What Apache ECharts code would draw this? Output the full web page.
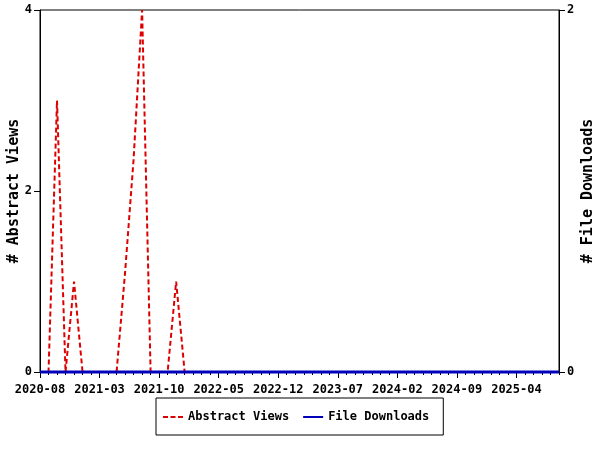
<!DOCTYPE html>
<html>
<head>
<meta charset="utf-8">
<script src="https://cdn.jsdelivr.net/npm/echarts@6/dist/echarts.min.js"></script>
<style>
  html, body { margin: 0; padding: 0; background: #fff; }
  #chart { width: 600px; height: 450px; }
</style>
</head>
<body>
<div id="chart"></div>
<script>
// monthly categories 2020-08 .. 2025-09
const months = [
  '2020-08', '2020-09', '2020-10', '2020-11', '2020-12',
  '2021-01', '2021-02', '2021-03', '2021-04', '2021-05', '2021-06', '2021-07', '2021-08', '2021-09', '2021-10', '2021-11', '2021-12',
  '2022-01', '2022-02', '2022-03', '2022-04', '2022-05', '2022-06', '2022-07', '2022-08', '2022-09', '2022-10', '2022-11', '2022-12',
  '2023-01', '2023-02', '2023-03', '2023-04', '2023-05', '2023-06', '2023-07', '2023-08', '2023-09', '2023-10', '2023-11', '2023-12',
  '2024-01', '2024-02', '2024-03', '2024-04', '2024-05', '2024-06', '2024-07', '2024-08', '2024-09', '2024-10', '2024-11', '2024-12',
  '2025-01', '2025-02', '2025-03', '2025-04', '2025-05', '2025-06', '2025-07', '2025-08', '2025-09'
]

const abstractViews = [
  0, 0, 3, 0, 1,
  0, 0, 0, 0, 0, 1.1, 2.35, 4, 0, 0, 0, 1,
  0, 0, 0, 0, 0, 0, 0, 0, 0, 0, 0, 0,
  0, 0, 0, 0, 0, 0, 0, 0, 0, 0, 0, 0,
  0, 0, 0, 0, 0, 0, 0, 0, 0, 0, 0, 0,
  0, 0, 0, 0, 0, 0, 0, 0, 0
]

const fileDownloads = [
  0, 0, 0, 0, 0,
  0, 0, 0, 0, 0, 0, 0, 0, 0, 0, 0, 0,
  0, 0, 0, 0, 0, 0, 0, 0, 0, 0, 0, 0,
  0, 0, 0, 0, 0, 0, 0, 0, 0, 0, 0, 0,
  0, 0, 0, 0, 0, 0, 0, 0, 0, 0, 0, 0,
  0, 0, 0, 0, 0, 0, 0, 0, 0
]

const FONT = 'DejaVu Sans Mono'
const labelStyle = { color: '#000', fontFamily: FONT, fontWeight: 'bold', fontSize: 12 }
const nameStyle = { color: '#000', fontFamily: FONT, fontWeight: 'bold', fontSize: 15 }
const black = { lineStyle: { color: '#000', width: 1 } }

const chart = echarts.init(document.getElementById('chart'))

chart.setOption({
  animation: false,
  grid: {
    left: 40, right: 41, top: 10, bottom: 78,
    outerBoundsMode: 'none',
    containLabel: false,
    show: true, borderColor: '#000', borderWidth: 1,
  },
  legend: {
    left: 156, top: 398,
    padding: [13, 14, 12, 7],
    itemGap: 14,
    itemWidth: 20,
    itemHeight: 3,
    borderColor: '#000', borderWidth: 1,
    textStyle: labelStyle,
    data: [
      { name: 'Abstract Views', icon: 'path://M0,0H5V2H0Z M7.5,0H12.5V2H7.5Z M15,0H20V2H15Z' },
      { name: 'File Downloads', icon: 'path://M0,0H20V2H0Z' },
    ],
  },
  xAxis: [
    {
      type: 'category',
      data: months,
      boundaryGap: false,
      axisLine: black,
      axisTick: { interval: 0, length: 3, lineStyle: { color: '#000' } },
      axisLabel: { ...labelStyle, interval: 6, margin: 12 },
      splitLine: { show: false },
    },
    {
      type: 'category',
      data: months,
      position: 'bottom',
      boundaryGap: false,
      axisLine: { show: false },
      axisTick: { interval: 6, length: 6, lineStyle: { color: '#000' } },
      axisLabel: { show: false },
    },
  ],
  yAxis: [
    {
      type: 'value',
      min: 0, max: 4, interval: 2,
      name: '# Abstract Views',
      nameLocation: 'middle',
      nameRotate: 90,
      nameGap: 18,
      nameMoveOverlap: false,
      nameTextStyle: nameStyle,
      axisLine: { show: true, ...black },
      axisTick: { show: true, length: 6, lineStyle: { color: '#000' } },
      axisLabel: { ...labelStyle, margin: 8 },
      splitLine: { show: false },
    },
    {
      type: 'value',
      min: 0, max: 2, interval: 2,
      name: '# File Downloads',
      nameLocation: 'middle',
      nameRotate: 90,
      nameGap: 22,
      nameMoveOverlap: false,
      nameTextStyle: nameStyle,
      axisLine: { show: true, ...black },
      axisTick: { show: true, length: 6, lineStyle: { color: '#000' } },
      axisLabel: { ...labelStyle, margin: 8 },
      splitLine: { show: false },
    },
  ],
  series: [
    {
      name: 'Abstract Views',
      type: 'line',
      yAxisIndex: 0,
      data: abstractViews,
      symbol: 'none',
      clip: false,
      z: 5,
      itemStyle: { color: '#dd0000' },
      lineStyle: { color: '#dd0000', width: 2, type: [5, 3] },
    },
    {
      name: 'File Downloads',
      type: 'line',
      yAxisIndex: 1,
      data: fileDownloads,
      symbol: 'none',
      clip: false,
      z: 6,
      itemStyle: { color: '#0000bb' },
      lineStyle: { color: '#0000bb', width: 3 },
    },
  ],
})

window.addEventListener('resize', () => {
  chart.resize()
})
</script>
</body>
</html>
